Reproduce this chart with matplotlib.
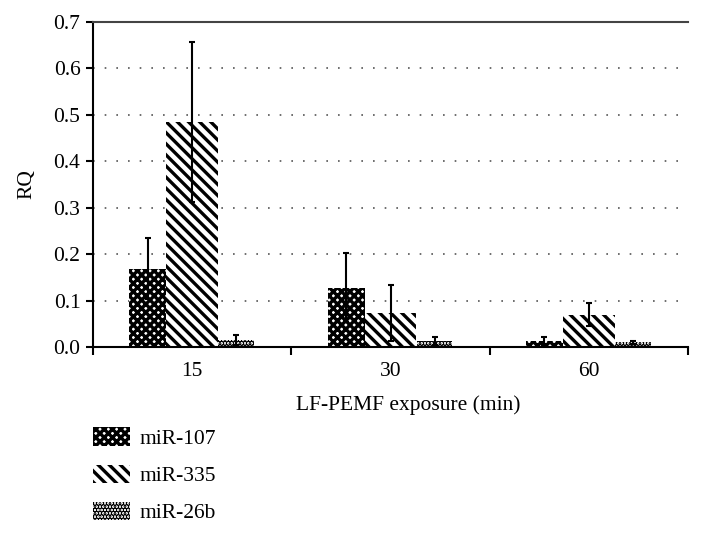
import matplotlib
matplotlib.use("Agg")
import matplotlib.pyplot as plt
import numpy as np

categories = ["15", "30", "60"]
series = ["miR-107", "miR-335", "miR-26b"]
mir107 = [0.169, 0.128, 0.013]
mir107_err = [0.066, 0.074, 0.008]
mir335 = [0.485, 0.073, 0.070]
mir335_err = [0.173, 0.061, 0.024]
mir26b = [0.015, 0.013, 0.010]
mir26b_err = [0.011, 0.008, 0.004]
yticks = [0.0, 0.1, 0.2, 0.3, 0.4, 0.5, 0.6, 0.7]

plt.rcParams['font.family'] = ['Liberation Serif', 'DejaVu Serif']
plt.rcParams['hatch.linewidth'] = 2.4

FS = 15.5

fig = plt.figure(figsize=(7.03, 5.36), dpi=100)
ax = fig.add_axes([93/703, 1-347/536, (688-93)/703, (347-22)/536])

x = np.arange(1, len(categories) + 1)
offsets = [-0.224, 0.0, 0.222]
widths = [0.186, 0.262, 0.181]
hatches = ['xxxx', '\\' * 3, '.....']
vals = [mir107, mir335, mir26b]
errs = [mir107_err, mir335_err, mir26b_err]

for i in range(3):
    ax.bar(x + offsets[i], vals[i], width=widths[i], color='white',
           edgecolor='black', hatch=hatches[i], linewidth=0, label=series[i], zorder=2)
    ax.errorbar(x + offsets[i], vals[i], yerr=errs[i], fmt='none', ecolor='black',
                elinewidth=1.5, capsize=2.5, capthick=1.5, zorder=3)

ax.set_xlim(0.5, 3.5)
ax.set_ylim(0, 0.7)
ax.set_yticks(yticks)
ax.set_yticklabels([f"{t:.1f}" for t in yticks], fontsize=FS)
ax.set_xticks(x)
ax.set_xticklabels(categories, fontsize=FS)
ax.set_xticks([0.5, 1.5, 2.5, 3.5], minor=True)
ax.tick_params(axis='x', which='major', length=0, pad=11)
ax.tick_params(axis='x', which='minor', length=6, width=1.5, direction='out')
ax.tick_params(axis='y', length=5, width=1.5, direction='out', pad=4)
for yv in yticks[1:-1]:
    ax.axhline(yv, color='#555555', linestyle=(0, (1, 6)), linewidth=1.2, zorder=1)

ax.spines['right'].set_visible(False)
ax.spines['top'].set_color('#444444')
ax.spines['top'].set_linewidth(1.5)
ax.spines['left'].set_linewidth(1.5)
ax.spines['bottom'].set_linewidth(1.5)

ax.set_xlabel("LF-PEMF exposure (min)", fontsize=FS, labelpad=10, x=(408-93)/595)
ax.set_ylabel("RQ", fontsize=FS, labelpad=12)

handles, labels = ax.get_legend_handles_labels()
fig.legend(handles, labels, loc='upper left', bbox_to_anchor=(74/703, 1-408/536),
           frameon=False, fontsize=FS, handlelength=1.7, handleheight=0.95,
           labelspacing=0.72, handletextpad=0.45)

fig.savefig("out.png", dpi=100)
